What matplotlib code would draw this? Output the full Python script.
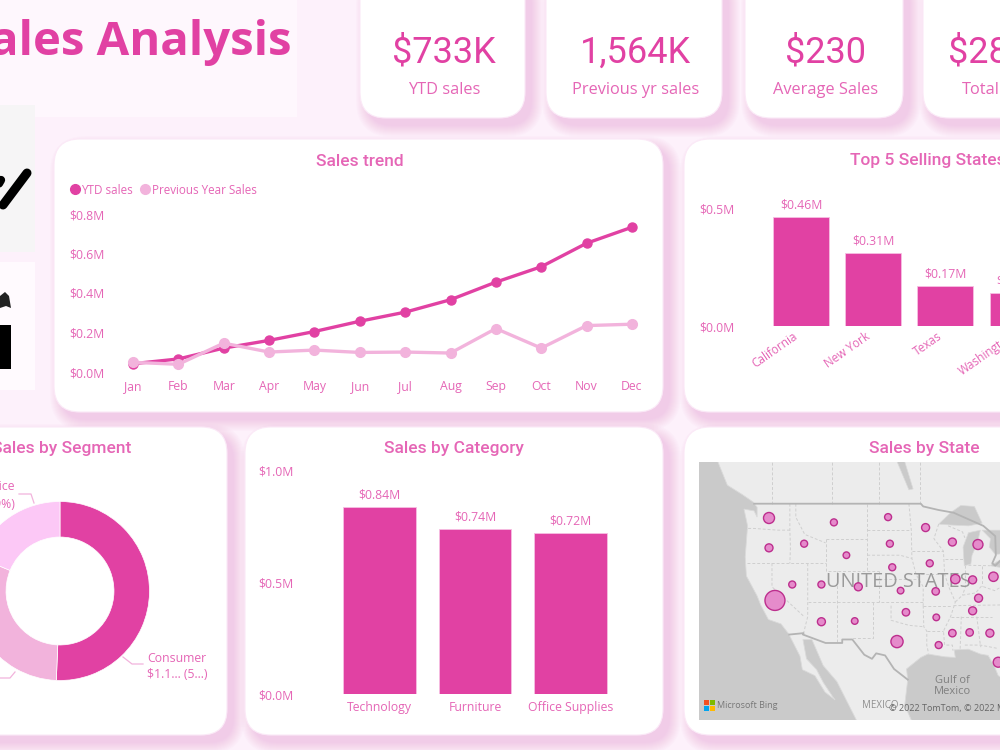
import numpy as np
import matplotlib
matplotlib.use('Agg')
import matplotlib.pyplot as plt
from matplotlib.lines import Line2D
from matplotlib.patches import FancyBboxPatch, Rectangle, Polygon
from matplotlib.transforms import ScaledTranslation

# Sales figures in $M
months = ['Jan', 'Feb', 'Mar', 'Apr', 'May', 'Jun', 'Jul', 'Aug', 'Sep', 'Oct', 'Nov', 'Dec']
ytd_sales = [0.042, 0.066, 0.121, 0.160, 0.205, 0.257, 0.303, 0.366, 0.455, 0.533, 0.652, 0.733]
prev_sales = [0.049, 0.039, 0.146, 0.101, 0.111, 0.099, 0.101, 0.096, 0.220, 0.121, 0.235, 0.242]

top_states = ['California', 'New York', 'Texas', 'Washington', 'Pennsylvania']
top_values = [0.46, 0.31, 0.17, 0.14, 0.12]

categories = ['Technology', 'Furniture', 'Office Supplies']
category_values = [0.84, 0.74, 0.72]

segments = ['Consumer', 'Corporate', 'Home Office']
segment_values = [1.16, 0.70, 0.43]

kpi_values = ['$733K', '1,564K', '$230', '$28']
kpi_names = ['YTD sales', 'Previous yr sales', 'Average Sales', 'Total']

# state, lon, lat, sales ($M)
map_states = ['WA', 'MT', 'ND', 'MN', 'WI', 'MI', 'OR', 'ID', 'WY', 'SD', 'NE', 'IA', 'IL', 'IN', 'OH', 'NV', 'UT',
              'CO', 'KS', 'MO', 'KY', 'TN', 'CA', 'AZ', 'NM', 'OK', 'AR', 'MS', 'AL', 'GA', 'LA', 'TX', 'FL']
map_lon = [-120.5, -109.6, -100.5, -94.2, -89.7, -85.4, -120.5, -114.6, -107.5, -100.2, -99.8, -93.5, -89.2, -86.3,
           -82.8, -116.6, -111.7, -105.5, -98.4, -92.5, -85.3, -86.3, -119.5, -111.7, -106.1, -97.5, -92.4, -89.7,
           -86.8, -83.4, -92.0, -99.0, -82.0]
map_lat = [47.4, 46.9, 47.5, 46.3, 44.6, 44.3, 43.9, 44.4, 43.0, 44.4, 41.5, 42.0, 40.0, 39.9, 40.3, 39.3, 39.3,
           39.0, 38.5, 38.4, 37.5, 35.8, 37.2, 34.3, 34.4, 35.6, 34.9, 32.7, 32.8, 32.7, 31.0, 31.5, 28.5]
map_sales = [0.139, 0.056, 0.056, 0.073, 0.073, 0.114, 0.073, 0.056, 0.050, 0.056, 0.056, 0.056, 0.100, 0.073,
             0.100, 0.056, 0.056, 0.073, 0.050, 0.063, 0.073, 0.073, 0.457, 0.073, 0.050, 0.063, 0.050, 0.063,
             0.063, 0.073, 0.056, 0.170, 0.114]

# Base map outlines, lon/lat
land = [(-129.5, 54), (-127.5, 51), (-125, 50), (-123.2, 49.2), (-122.5, 48.6), (-122.5, 47.5), (-123, 48.2),
        (-124.7, 48.4), (-124.1, 46.5), (-124.5, 42.8), (-124.3, 40.4), (-122.5, 37.8), (-121.9, 36.6),
        (-120.6, 34.6), (-118.5, 34), (-117.2, 32.6), (-115.3, 29.4), (-114.9, 27.4), (-112.8, 26.5), (-111.1, 24),
        (-109.4, 22.8), (-109.8, 23.3), (-111.4, 25.5), (-112.5, 27.4), (-114.2, 29), (-114.8, 31.8), (-113.3, 31.8),
        (-111.4, 28), (-109.1, 25.6), (-105.8, 19.6), (-105, 19), (-96.3, 19), (-97.7, 22), (-97.2, 25.9),
        (-97.4, 27.5), (-95, 29.2), (-93.8, 29.7), (-91, 29.3), (-89.2, 29.2), (-89.4, 30.3), (-87, 30.4),
        (-85, 29.7), (-83.7, 29.5), (-82.7, 28), (-82, 26.5), (-81, 26), (-81, 54)]
lakes = [[(-92, 46.7), (-90, 48), (-88.3, 48.8), (-86, 48.7), (-84.7, 46.8), (-87, 46.5), (-90, 46.6)],
         [(-87.7, 41.7), (-87.9, 44), (-87, 45.7), (-85, 46), (-85.5, 44.5), (-86.4, 43), (-86.6, 41.9)],
         [(-84.7, 46), (-81, 46), (-81, 43.2), (-82.5, 43.1), (-83.5, 44), (-83.3, 45)],
         [(-83.4, 41.7), (-81, 42.7), (-81, 41.4)],
         [(-97, 50.5), (-96.3, 50.6), (-98, 54), (-99.4, 54)]]
country_lines = [[(-123, 49), (-95, 49), (-94.6, 48.7), (-92, 48.3), (-89.5, 48), (-84.5, 46.5), (-82.5, 45.3),
                  (-82.4, 43), (-83, 42), (-82.5, 41.7), (-81, 42.8)],
                 [(-117.1, 32.5), (-114.7, 32.7), (-114.8, 32.5), (-111, 31.3), (-108.2, 31.3), (-108.2, 31.8),
                  (-106.5, 31.8), (-104.5, 29.6), (-103.2, 29), (-102.5, 29.8), (-101, 29.5), (-99.5, 27.5),
                  (-97.2, 25.9)]]
state_lines = [[(-120, 49), (-120, 54)], [(-110, 49), (-110, 54)], [(-102, 49), (-102, 54)], [(-95.2, 49), (-95.2, 54)],
               [(-124, 46.2), (-123, 46.2), (-119, 46), (-117, 46)], [(-117, 49), (-117, 46), (-116.9, 44), (-117, 42)],
               [(-124.2, 42), (-111, 42)], [(-120, 42), (-120, 39), (-114.6, 35)],
               [(-116, 49), (-116, 47.5), (-114.5, 45.5), (-111, 44.5)], [(-111, 45), (-104, 45)],
               [(-111, 45), (-111, 41), (-102, 41)], [(-109, 41), (-109, 31.3)], [(-114, 42), (-114, 35), (-114.7, 32.7)],
               [(-114, 37), (-94.6, 37)], [(-103, 37), (-103, 32), (-106.6, 32)], [(-102, 41), (-102, 37)],
               [(-102, 40), (-95.3, 40)], [(-104, 49), (-104, 41)], [(-104, 46), (-96.6, 46)],
               [(-104, 43), (-98.5, 43), (-96.5, 42.6)],
               [(-97, 49), (-96.6, 46), (-96.5, 42.6), (-95.8, 40.6), (-94.6, 39), (-94.6, 36.5)],
               [(-100, 36.5), (-100, 34.5), (-97, 33.8), (-94.5, 33.6)],
               [(-94.6, 36.5), (-94.5, 33.6), (-94, 33), (-94, 31), (-93.7, 29.8)], [(-94, 33), (-91.2, 33)],
               [(-96.5, 43.5), (-91.2, 43.5)], [(-95.8, 40.6), (-91.5, 40.6)],
               [(-92, 46.7), (-92.8, 45), (-91.2, 43.5), (-91, 40.6), (-90.2, 38.8), (-89.2, 37), (-90, 35),
                (-91.2, 33), (-91, 31), (-89.7, 31), (-89.6, 30.2)],
               [(-94.6, 36.5), (-90, 36.5)], [(-89.5, 36.5), (-81, 36.6)], [(-88.2, 35), (-88.4, 30.3)],
               [(-90, 35), (-83, 35)], [(-85.6, 35), (-85, 31), (-84.9, 30.7)], [(-87.6, 31), (-85, 31), (-82, 30.5)],
               [(-87.5, 41.7), (-87.5, 39), (-88, 37.9)], [(-84.8, 41.7), (-84.8, 39.1)],
               [(-89.2, 37), (-88, 37.9), (-85.8, 38.2), (-84.8, 39.1), (-82.6, 38.5), (-81, 39.2)],
               [(-91, 42.5), (-87.8, 42.5)], [(-87, 41.75), (-83.4, 41.7)], [(-90.4, 46.5), (-88, 45.8), (-87.6, 45.1)]]

PINK = '#e141a3'
LIGHT = '#f2b3dc'
TEXT = '#e566b6'
SHADOW = '#e58fcf'
FONT = 'Roboto'
BODY = 'Open Sans'

fig = plt.figure(figsize=(10, 7.5), dpi=100, facecolor='#fdf1fb')

# Full size layer in pixel units for cards and loose text
bg = fig.add_axes([0, 0, 1, 1])
bg.set_xlim(0, 1000)
bg.set_ylim(750, 0)
bg.axis('off')


def card(x0, y0, x1, y1, radius=26):
    # soft shadow from stacked transparent boxes, pushed down and right
    for grow in range(0, 12):
        bg.add_patch(FancyBboxPatch((x0 + 7 - grow, y0 + 8 - grow), x1 - x0 + 2 * grow, y1 - y0 + 2 * grow,
                                    boxstyle='round,pad=0,rounding_size=%d' % (radius + grow),
                                    fc=SHADOW, ec='none', alpha=0.03))
    bg.add_patch(FancyBboxPatch((x0, y0), x1 - x0, y1 - y0, boxstyle='round,pad=0,rounding_size=%d' % radius,
                                fc='white', ec='#fbe9f7', lw=0.8))


def px_axes(x0, ytop, x1, ybot):
    ax = fig.add_axes([x0 / 1000, 1 - ybot / 750, (x1 - x0) / 1000, (ybot - ytop) / 750])
    ax.patch.set_visible(False)
    for s in ax.spines.values():
        s.set_visible(False)
    ax.tick_params(length=0, labelcolor=TEXT, labelsize=8.8)
    return ax


def style_ticks(ax):
    for t in ax.get_xticklabels() + ax.get_yticklabels():
        t.set_fontfamily(BODY)


# Title strip and the side icons
bg.add_patch(Rectangle((0, 0), 297, 117, fc='#fef7fd', ec='none'))
bg.text(292, 42, 'Sales Analysis', family=BODY, weight='bold', size=34, color=PINK, ha='right', va='center')
bg.add_patch(Rectangle((0, 105), 35, 147, fc='#f6f5f6', ec='none'))
bg.add_patch(Rectangle((0, 262), 35, 128, fc='#fffafe', ec='none'))
bg.plot([3, 27], [205, 173], color='black', lw=6.5, solid_capstyle='round')
bg.plot([-3, 1], [187, 180], color='black', lw=6, solid_capstyle='round')
bg.add_patch(Rectangle((0, 325), 11, 44, fc='black', ec='none'))
bg.add_patch(Polygon([(0, 296), (5, 292), (9, 296), (11, 308), (6, 306), (0, 308)], fc='#222222', ec='none'))

# KPI cards
kpi_boxes = [(360, 525), (546, 722), (745, 903), (923, 1100)]
for (x0, x1), value, name in zip(kpi_boxes, kpi_values, kpi_names):
    card(x0, -30, x1, 118)
    cx = (x0 + x1) / 2
    if name == 'Total':
        bg.text(948, 53, value, family=FONT, size=26, color=PINK, ha='left', va='center')
        bg.text(962, 90.5, name, family=BODY, size=11.8, color=TEXT, ha='left', va='center')
    else:
        bg.text(cx + 1.5, 53, value, family=FONT, size=26, color=PINK, ha='center', va='center')
        bg.text(cx + 1.5, 90.5, name, family=BODY, size=11.8, color=TEXT, ha='center', va='center')

# Chart cards
card(54, 139, 663, 412)
card(684, 139, 1100, 412)
card(-60, 427, 227, 735)
card(245, 427, 663, 735)
card(684, 427, 1100, 735)

for x, y, title in [(360, 161, 'Sales trend'), (928, 161, 'Top 5 Selling States'), (62, 448, 'Sales by Segment'),
                    (454, 448, 'Sales by Category'), (924, 448, 'Sales by State')]:
    bg.text(x, y, title, family=FONT, weight='medium', size=12.5, color=TEXT, ha='center', va='center')

# Sales trend
ax = px_axes(107, 214, 650, 372)
x = np.arange(len(months))
ax.plot(x, ytd_sales, color=PINK, lw=2.4, marker='o', ms=6.5, clip_on=False)
ax.plot(x, prev_sales, color=LIGHT, lw=2.4, marker='o', ms=7, clip_on=False)
ax.set_xlim((107 - 133) / 45.36, (650 - 133) / 45.36)
ax.set_ylim(0, 0.8)
ax.set_xticks(x, months)
ax.set_yticks([0, 0.2, 0.4, 0.6, 0.8], ['$0.0M', '$0.2M', '$0.4M', '$0.6M', '$0.8M'])
ax.tick_params(axis='x', pad=5.5)
ax.tick_params(axis='y', pad=1.5)
style_ticks(ax)
handles = [Line2D([], [], ls='', marker='o', ms=7, color=PINK), Line2D([], [], ls='', marker='o', ms=7, color=LIGHT)]
leg = fig.legend(handles, ['YTD sales', 'Previous Year Sales'], loc='center left', bbox_to_anchor=(0.064, 1 - 190 / 750),
                 ncol=2, frameon=False, handlelength=0.8, handletextpad=0.2, columnspacing=0.6,
                 borderpad=0, prop={'family': BODY, 'size': 8.4}, labelcolor=TEXT)

# Top 5 states
ax = px_axes(735, 208, 1170, 326)
x = np.arange(len(top_states))
bars = ax.bar(x, top_values, width=56 / 72.2, color=PINK, edgecolor='#f7bfe3', lw=0.6)
ax.bar_label(bars, labels=['$%.2fM' % v for v in top_values], padding=4, color=TEXT, size=8.8, family=BODY)
ax.set_xlim((735 - 801) / 72.2, (1170 - 801) / 72.2)
ax.set_ylim(0, 0.5)
ax.set_yticks([0, 0.5], ['$0.0M', '$0.5M'])
ax.set_xticks(x, top_states, rotation=35, ha='right', rotation_mode='anchor', fontsize=8.5)
ax.tick_params(axis='x', pad=3)
ax.tick_params(axis='y', pad=0)
style_ticks(ax)
for t in ax.get_xticklabels():
    t.set_transform(t.get_transform() + ScaledTranslation(-8 / 100, 0, fig.dpi_scale_trans))

# Sales by segment
ax = px_axes(-30, 501.5, 150, 680.5)
ax.pie(segment_values, colors=[PINK, LIGHT, '#fcc8f6'], startangle=90, counterclock=False, radius=1,
       wedgeprops={'width': 0.397, 'edgecolor': 'white', 'linewidth': 0.5})
ax.set_xlim(-1, 1)
ax.set_ylim(-1, 1)
bg.plot([123, 132, 143], [657, 664, 664], color=LIGHT, lw=0.9)
bg.plot([19, 31, 34], [494, 494, 503], color=LIGHT, lw=0.9)
bg.plot([0, 10, 15], [678, 678, 672], color=LIGHT, lw=0.9)
bg.text(147, 658, segments[0], family=BODY, size=8.8, color=TEXT, va='center')
bg.text(147, 674, '$1.1... (5...)', family=BODY, size=8.8, color=TEXT, va='center')
bg.text(14.5, 487, segments[2], family=BODY, size=8.8, color=TEXT, va='center', ha='right')
bg.text(14.5, 504, '$0.43M (19%)', family=BODY, size=8.8, color=TEXT, va='center', ha='right')

# Sales by category
ax = px_axes(296, 471, 640, 694)
x = np.arange(len(categories))
bars = ax.bar(x, category_values, width=72.7 / 95.7, color=PINK, edgecolor='#f7bfe3', lw=0.6)
ax.bar_label(bars, labels=['$%.2fM' % v for v in category_values], padding=4, color=TEXT, size=8.8, family=BODY)
ax.set_xlim((296 - 379.4) / 95.7, (640 - 379.4) / 95.7)
ax.set_ylim(0, 1.0)
ax.set_yticks([0, 0.5, 1.0], ['$0.0M', '$0.5M', '$1.0M'])
ax.set_xticks(x, categories)
ax.tick_params(axis='x', pad=5)
ax.tick_params(axis='y', pad=1.5)
style_ticks(ax)


# Map of sales by state, web mercator
def merc(lat):
    return np.log(np.tan(np.radians(45 + np.asarray(lat, dtype=float) / 2)))


m = px_axes(699, 462, 1000, 720)
m.patch.set_visible(True)
m.set_facecolor('#cacaca')
m.set_xlim(-132.26, -81.7)
m.set_ylim(0.350, 1.106)
m.set_xticks([])
m.set_yticks([])


def project(points):
    return [(p[0], float(merc(p[1]))) for p in points]


m.add_patch(Polygon(project(land), fc='#ececec', ec='#dadada', lw=0.6))
for lake in lakes:
    m.add_patch(Polygon(project(lake), fc='#cacaca', ec='#dadada', lw=0.5))
for line in state_lines:
    pts = np.array(project(line))
    m.plot(pts[:, 0], pts[:, 1], color='#cfcfcf', lw=0.7, ls=(0, (3, 2)))
for line in country_lines:
    pts = np.array(project(line))
    m.plot(pts[:, 0], pts[:, 1], color='#b4b4b4', lw=1.3)

m.text(0.661, 0.535, 'UNITED STATES', transform=m.transAxes, family=BODY, size=14.3, color='#9a9a9a',
       ha='center', va='center', zorder=3)
m.scatter(map_lon, merc(map_lat), s=np.array(map_sales) * 453, fc='#e58bcb', ec='#bd2f8e', lw=1, zorder=4)

# Map credits
for i, c in enumerate(['#f25022', '#7fba00', '#00a4ef', '#ffb900']):
    m.add_patch(Rectangle((704 + (i % 2) * 5.5, 700 + (i // 2) * 5.5), 5, 5, fc=c, ec='none', zorder=5,
                          transform=bg.transData))
fig.text(717 / 1000, 1 - 705 / 750, 'Microsoft Bing', family=BODY, size=6.5, color='#777777', va='center')
fig.text(862 / 1000, 1 - 706 / 750, 'MEXICO', family=BODY, size=7, color='#8f8f8f', va='center')
fig.text(889 / 1000, 1 - 708 / 750, '© 2022 TomTom, © 2022 Microsoft', family=BODY, size=6.5, color='#666666', va='center')
fig.text(952 / 1000, 1 - 686 / 750, 'Gulf of\nMexico', family=BODY, size=8, color='#808080', va='center', ha='center',
         linespacing=1.0)

fig.savefig('out.png', dpi=100)
